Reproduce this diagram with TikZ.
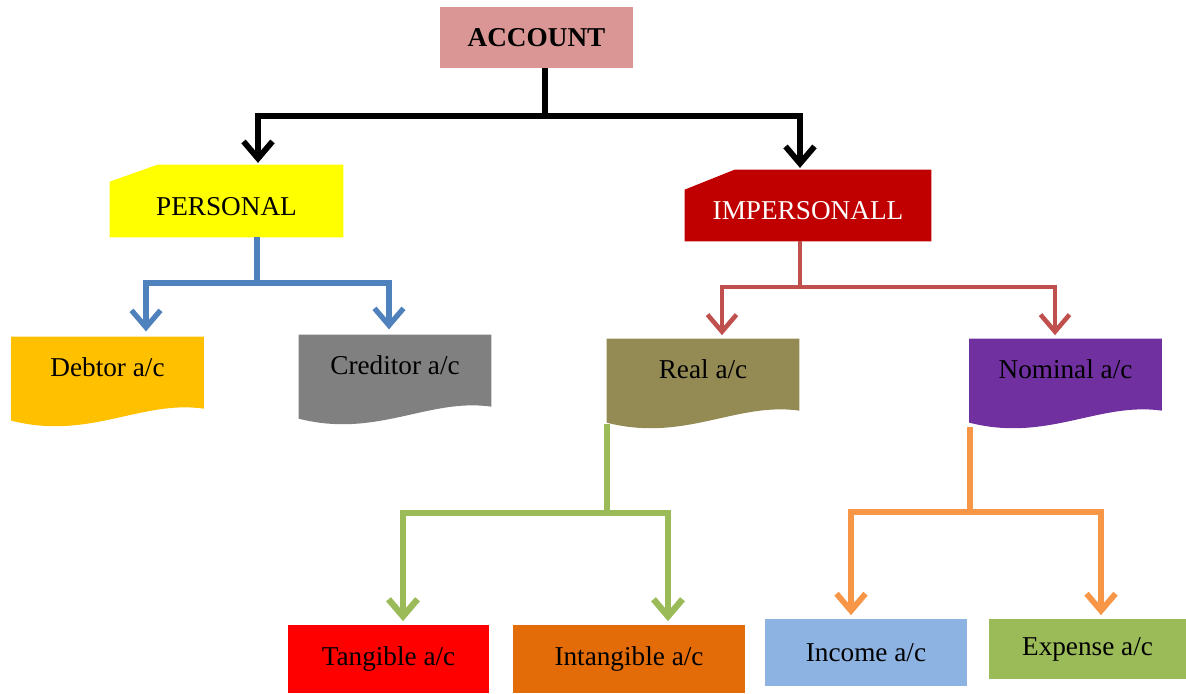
\documentclass[tikz,border=0pt]{standalone}
\usepackage{fontspec}
\setmainfont{Liberation Serif}
\usetikzlibrary{arrows.meta,backgrounds}

\definecolor{accpink}{HTML}{DA9694}
\definecolor{perfill}{HTML}{FFFF00}
\definecolor{impfill}{HTML}{C00000}
\definecolor{debfill}{HTML}{FFC000}
\definecolor{crefill}{HTML}{808080}
\definecolor{realfill}{HTML}{948A54}
\definecolor{nomfill}{HTML}{7030A0}
\definecolor{tanfill}{HTML}{FF0000}
\definecolor{intfill}{HTML}{E36C09}
\definecolor{incfill}{HTML}{8DB3E2}
\definecolor{expfill}{HTML}{9BBB59}
\definecolor{blueline}{HTML}{4F81BD}
\definecolor{redline}{HTML}{C0504D}
\definecolor{greenline}{HTML}{9BBB59}
\definecolor{orangeline}{HTML}{F79646}

\tikzset{
    acbox/.style={inner sep=0pt, font=\fontsize{15.5}{18}\selectfont},
    cutbox/.style={acbox, text height=1.6em, text depth=0pt},
    docbox/.style={acbox, minimum width=3.84cm, minimum height=1.2cm},
    tip/.style={-{Straight Barb[length=3.4mm,width=5.8mm]}, shorten >=1pt}
}

\begin{document}
\begin{tikzpicture}[x=0.02cm, y=0.02cm, line join=miter]
            \useasboundingbox (0, 0) rectangle (1186, -693);

            \node[acbox, fill=accpink, minimum width=3.86cm, minimum height=1.22cm, font=\fontsize{15.5}{18}\selectfont\bfseries]
                (account) at (536.5, -37.5) {ACCOUNT};
            \node[cutbox, minimum width=4.66cm, minimum height=1.44cm] (personal) at (226.5, -201) {PERSONAL};
            \node[cutbox, text=white, minimum width=4.92cm, minimum height=1.42cm] (impersonal) at (808, -205.5) {IMPERSONALL};

            \node[docbox] (debtor) at (107.5, -367) {Debtor a/c};
            \node[docbox] (creditor) at (395, -365) {Creditor a/c};
            \node[docbox] (real) at (703, -369) {Real a/c};
            \node[docbox] (nominal) at (1065.5, -369) {Nominal a/c};

            \node[acbox, fill=tanfill, minimum width=4.02cm, minimum height=1.36cm] (tangible) at (388.5, -659) {Tangible a/c};
            \node[acbox, fill=intfill, minimum width=4.64cm, minimum height=1.36cm] (intangible) at (629, -659) {Intangible a/c};
            \node[acbox, fill=incfill, minimum width=4.04cm, minimum height=1.34cm] (income) at (866, -652.5) {Income a/c};
            \node[acbox, fill=expfill, minimum width=3.94cm, minimum height=1.2cm] (expense) at (1087.5, -649) {Expense a/c};

            \begin{scope}[on background layer]
                \foreach \n/\c/\dx/\dy in {personal/perfill/0.96/0.34, impersonal/impfill/1/0.4}
                    \fill[\c] ([yshift=-\dy cm]\n.north west) -- ([xshift=\dx cm]\n.north west) -- (\n.north east)
                        -- (\n.south east) -- (\n.south west) -- cycle;
                \foreach \n/\c in {debtor/debfill, creditor/crefill, real/realfill, nominal/nomfill}
                    \fill[\c] (\n.north west) -- (\n.north east) -- ++(0, -72)
                        .. controls +(-63, 9) and +(78, -20) .. ([yshift=-1.68cm]\n.north west) -- cycle;
            \end{scope}

            \coordinate (km) at (545, -116);
            \coordinate (kl) at (258, -116);
            \coordinate (kr) at (800, -116);
            \draw[line width=3.3pt, black] (account.south -| km) -- (km);
            \draw[tip, line width=3.3pt, black] (km) -- (kl) -- (kl |- personal.north);
            \draw[tip, line width=3.3pt, black] (km) -- (kr) -- (kr |- impersonal.north);

            \coordinate (bm) at (257, -283);
            \coordinate (bl) at (146, -283);
            \coordinate (br) at (389, -283);
            \draw[line width=3pt, blueline] (personal.south -| bm) -- (bm);
            \draw[tip, line width=3pt, blueline, shorten >=3pt] (bm) -- (bl) -- (bl |- debtor.north);
            \draw[tip, line width=3pt, blueline, shorten >=3pt] (bm) -- (br) -- (br |- creditor.north);

            \coordinate (rm) at (800, -287);
            \coordinate (rl) at (722, -287);
            \coordinate (rr) at (1055, -287);
            \draw[line width=2.6pt, redline] (impersonal.south -| rm) -- (rm);
            \draw[tip, line width=2.6pt, redline, shorten >=2pt] (rm) -- (rl) -- (rl |- real.north);
            \draw[tip, line width=2.6pt, redline, shorten >=2pt] (rm) -- (rr) -- (rr |- nominal.north);

            \coordinate (gm) at (607, -513);
            \coordinate (gl) at (403, -513);
            \coordinate (gr) at (668, -513);
            \draw[line width=3.6pt, greenline] ([yshift=-0.5cm]real.south -| gm) -- (gm);
            \draw[tip, line width=3.6pt, greenline, shorten >=2pt] (gm) -- (gl) -- (gl |- tangible.north);
            \draw[tip, line width=3.6pt, greenline, shorten >=2pt] (gm) -- (gr) -- (gr |- intangible.north);

            \coordinate (om) at (970, -512);
            \coordinate (ol) at (851, -512);
            \coordinate (or) at (1101, -512);
            \draw[line width=3.3pt, orangeline] ([yshift=-0.56cm]nominal.south -| om) -- (om);
            \draw[tip, line width=3.3pt, orangeline, shorten >=2pt] (om) -- (ol) -- (ol |- income.north);
            \draw[tip, line width=3.3pt, orangeline, shorten >=2pt] (om) -- (or) -- (or |- expense.north);
\end{tikzpicture}
\end{document}
